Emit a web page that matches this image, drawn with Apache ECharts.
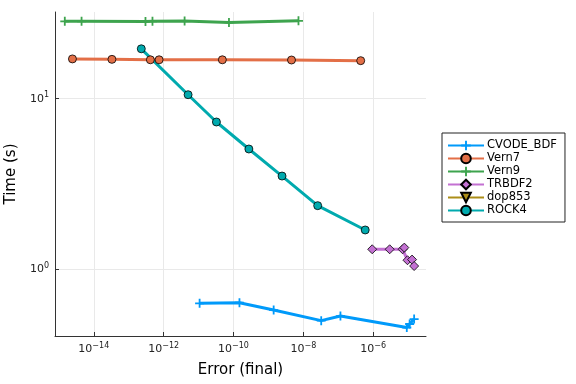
<!DOCTYPE html>
<html>
<head>
<meta charset="utf-8">
<script src="https://cdn.jsdelivr.net/npm/echarts@6/dist/echarts.min.js"></script>
<style>html,body{margin:0;padding:0;background:#fff}#c{width:576px;height:384px}</style>
</head>
<body>
<div id="c"></div>
<script>
const seriesNames = ['CVODE_BDF', 'Vern7', 'Vern9', 'TRBDF2', 'dop853', 'ROCK4'];

const cvodeErr = [1.07e-11, 1.48e-10, 1.41e-9, 3.24e-8, 1.15e-7, 9.12e-6, 1.10e-5, 1.48e-5];
const cvodeTime = [0.632, 0.637, 0.577, 0.500, 0.532, 0.456, 0.478, 0.511];

const vern7Err = [2.45e-15, 3.31e-14, 4.17e-13, 7.41e-13, 4.79e-11, 4.57e-9, 4.37e-7];
const vern7Time = [17.1, 17.0, 16.9, 16.9, 16.9, 16.85, 16.7];

const vern9Err = [1.48e-15, 4.47e-15, 3.02e-13, 4.79e-13, 3.98e-12, 7.41e-11, 7.24e-9];
const vern9Time = [28.4, 28.4, 28.3, 28.4, 28.5, 28.0, 28.6];

const trbdf2Err = [9.33e-7, 2.95e-6, 6.92e-6, 7.76e-6, 9.55e-6, 1.29e-5, 1.48e-5];
const trbdf2Time = [1.31, 1.31, 1.31, 1.34, 1.13, 1.14, 1.045];

const dop853Err = [];
const dop853Time = [];

const rock4Err = [2.29e-13, 5.01e-12, 3.24e-11, 2.75e-10, 2.45e-9, 2.57e-8, 5.89e-7];
const rock4Time = [19.6, 10.55, 7.30, 5.07, 3.52, 2.36, 1.70];

const xTicks = [1e-14, 1e-12, 1e-10, 1e-8, 1e-6];
const yTicks = [1, 10];

function pairs(xs, ys) { return xs.map((x, i) => [x, ys[i]]); }
function expLabel(v) {
  const e = Math.round(Math.log10(v));
  return '10{sup|' + String(e).replace('-', '\u2212') + '}';
}

const plus = 'path://M-1,-5H1V-1H5V1H1V5H-1V1H-5V-1H-1Z';
const font = 'DejaVu Sans';

const chart = echarts.init(document.getElementById('c'), null, {renderer: 'canvas'});
const labelRich = {
  sup: {fontSize: 8, fontFamily: font, color: '#222', verticalAlign: 'bottom', padding: [0, 0, 7, 0]}
};
function mk(name, xs, ys, color, symbol, size, extra) {
  return Object.assign({
    name: name, type: 'line', data: pairs(xs, ys),
    lineStyle: {color: color, width: 3},
    itemStyle: {color: color, borderColor: '#000', borderWidth: 0.8},
    symbol: symbol, symbolSize: size, showAllSymbol: true, animation: false
  }, extra || {});
}
chart.setOption({
  animation: false,
  textStyle: {fontFamily: font},
  grid: {left: 55, right: 150, top: 12, bottom: 48, containLabel: false, outerBoundsMode: 'none'},
  xAxis: {
    type: 'log', logBase: 10,
    min: Math.pow(10, -15.11), max: Math.pow(10, -4.49),
    name: 'Error (final)', nameLocation: 'middle', nameGap: 27,
    nameTextStyle: {fontSize: 15, color: '#000', fontFamily: font},
    axisLine: {show: true, onZero: false, lineStyle: {color: '#333', width: 1}},
    axisTick: {show: true, inside: true, length: 4, customValues: xTicks, lineStyle: {color: '#333'}},
    axisLabel: {customValues: xTicks, formatter: expLabel, fontSize: 11, color: '#222', fontFamily: font, margin: 6, rich: labelRich},
    splitLine: {show: true, lineStyle: {color: '#e9e9e9', width: 1}},
    minorTick: {show: false}
  },
  yAxis: {
    type: 'log', logBase: 10,
    min: Math.pow(10, -0.391), max: Math.pow(10, 1.508),
    name: 'Time (s)', nameLocation: 'middle', nameGap: 32, nameRotate: 90,
    nameTextStyle: {fontSize: 15, color: '#000', fontFamily: font},
    axisLine: {show: true, onZero: false, lineStyle: {color: '#333', width: 1}},
    axisTick: {show: true, inside: true, length: 4, customValues: yTicks, lineStyle: {color: '#333'}},
    axisLabel: {customValues: yTicks, formatter: expLabel, fontSize: 11, color: '#222', fontFamily: font, margin: 6, rich: labelRich},
    splitLine: {show: true, lineStyle: {color: '#e9e9e9', width: 1}}
  },
  legend: {
    left: 442, top: 133, orient: 'vertical',
    width: 110,
    itemWidth: 36, itemHeight: 12, itemGap: 0,
    padding: [6, 8, 5, 5],
    borderColor: '#222', borderWidth: 1, borderRadius: 0,
    backgroundColor: '#fff',
    textStyle: {fontSize: 11.5, lineHeight: 13, color: '#000', fontFamily: font, padding: [0, 0, 0, -2]},
    data: seriesNames
  },
  series: [
    mk('CVODE_BDF', cvodeErr, cvodeTime, '#009AFA', plus, 9, {itemStyle: {color: '#009AFA', borderWidth: 0}}),
    mk('Vern7', vern7Err, vern7Time, '#E36F47', 'circle', 8),
    mk('Vern9', vern9Err, vern9Time, '#3EA44E', plus, 9, {itemStyle: {color: '#3EA44E', borderWidth: 0}}),
    mk('TRBDF2', trbdf2Err, trbdf2Time, '#C371D2', 'diamond', 9),
    mk('dop853', dop853Err, dop853Time, '#AC8E18', 'triangle', 10, {symbolRotate: 180}),
    mk('ROCK4', rock4Err, rock4Time, '#00AAAE', 'circle', 8)
  ]
});
</script>
</body>
</html>
